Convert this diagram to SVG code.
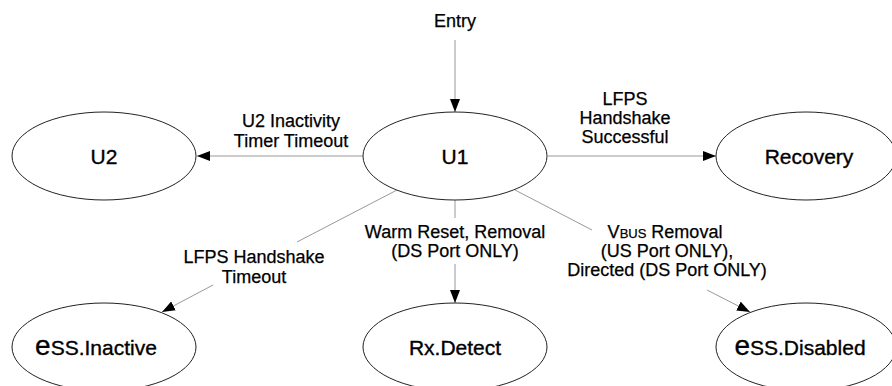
<svg xmlns="http://www.w3.org/2000/svg" width="892" height="386" viewBox="0 0 892 386">
<defs>
<style>
.node ellipse{fill:#fff;stroke:#222;stroke-width:1}
.node text{font-family:"Liberation Sans",Arial,sans-serif;font-size:21px;fill:#000;stroke:#000;stroke-width:0.35;text-anchor:middle}
.edge{fill:none;stroke:#999;stroke-width:1;marker-end:url(#arr)}
.lbl{font-family:"Liberation Sans",Arial,sans-serif;font-size:18px;fill:#000;stroke:#000;stroke-width:0.25;text-anchor:middle}
</style>
<marker id="arr" markerUnits="userSpaceOnUse" markerWidth="14" markerHeight="10" refX="13" refY="5" orient="auto">
<path d="M0,0 L13,5 L0,10 z" fill="#000"/>
</marker>
</defs>
<rect width="892" height="386" fill="#fff"/>
<g id="connectors">
<path class="edge" d="M455,40 L455,112"/>
<path class="edge" d="M363,156 L197,156"/>
<path class="edge" d="M548,156 L716,156"/>
<path class="edge" d="M397,190 L297,242 M213,285 L162,312"/>
<path class="edge" d="M455,200 L455,218 M455,264 L455,303"/>
<path class="edge" d="M515,190 L592,230 M707,290 L750,312"/>
</g>
<g id="labels">
<text class="lbl" x="455" y="27">Entry</text>
<text class="lbl" x="291" y="127">U2 Inactivity</text>
<text class="lbl" x="291" y="147">Timer Timeout</text>
<text class="lbl" x="625" y="105">LFPS</text>
<text class="lbl" x="625" y="124">Handshake</text>
<text class="lbl" x="625" y="143">Successful</text>
<text class="lbl" x="254" y="263">LFPS Handshake</text>
<text class="lbl" x="254" y="283">Timeout</text>
<text class="lbl" x="455" y="238">Warm Reset, Removal</text>
<text class="lbl" x="455" y="257">(DS Port ONLY)</text>
<text class="lbl" x="665" y="238">V<tspan font-size="13">BUS</tspan> Removal</text>
<text class="lbl" x="667" y="257">(US Port ONLY),</text>
<text class="lbl" x="667" y="276">Directed (DS Port ONLY)</text>
</g>
<g id="U2" class="node"><ellipse cx="104" cy="156" rx="92" ry="44"/><text x="104" y="164">U2</text></g>
<g id="U1" class="node"><ellipse cx="455" cy="156" rx="92" ry="44"/><text x="455" y="164">U1</text></g>
<g id="Recovery" class="node"><ellipse cx="806" cy="156" rx="90" ry="44"/><text x="809" y="164">Recovery</text></g>
<g id="eSS_Inactive" class="node"><ellipse cx="104" cy="347" rx="92" ry="44"/><text x="96" y="355"><tspan font-size="28">e</tspan>SS.Inactive</text></g>
<g id="Rx_Detect" class="node"><ellipse cx="455" cy="347" rx="92" ry="44"/><text x="455" y="355">Rx.Detect</text></g>
<g id="eSS_Disabled" class="node"><ellipse cx="806" cy="347" rx="90" ry="44"/><text x="800" y="355"><tspan font-size="28">e</tspan>SS.Disabled</text></g>
</svg>
